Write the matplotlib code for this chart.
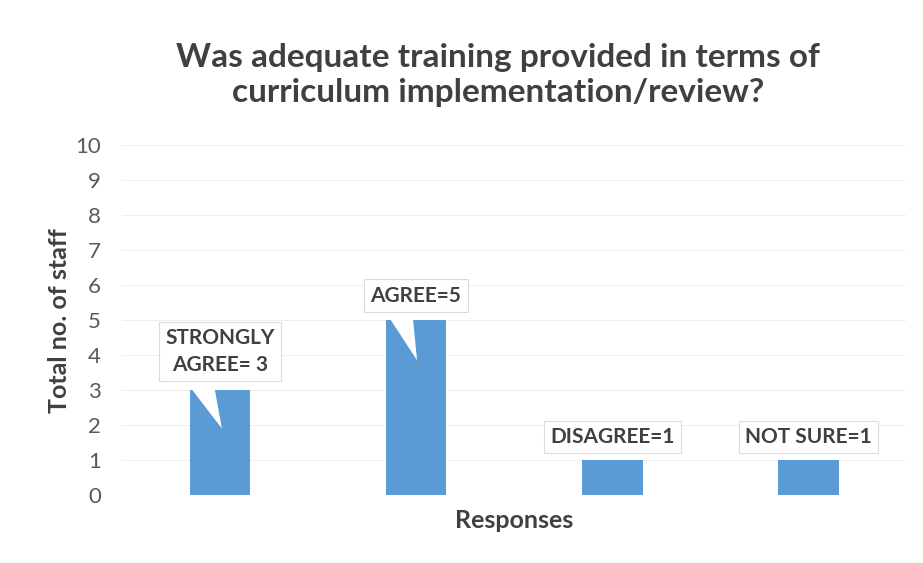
import matplotlib.pyplot as plt

# data
responses = ["STRONGLY AGREE", "AGREE", "DISAGREE", "NOT SURE"]
staff = [3, 5, 1, 1]
callouts = ["STRONGLY\nAGREE= 3", "AGREE=5", "DISAGREE=1", "NOT SURE=1"]
yticks = list(range(0, 11))

plt.rcParams["font.family"] = ["Lato", "DejaVu Sans"]
dark = "#404040"
gray = "#595959"

fig = plt.figure(figsize=(9.23, 5.63), dpi=100)
ax = fig.add_axes([0.132, 0.121, 0.850, 0.621])

x = list(range(len(responses)))
ax.bar(x, staff, width=0.31, color="#5b9bd5", zorder=2)

ax.set_xlim(-0.5, 3.5)
ax.set_ylim(0, 10)
ax.set_yticks(yticks)
ax.set_xticks([])
ax.tick_params(axis="y", length=0, labelsize=16, labelcolor=gray, pad=15)
ax.grid(axis="y", color="#efefef", linewidth=0.8, zorder=0)
for s in ax.spines.values():
    s.set_visible(False)

ax.set_ylabel("Total no. of staff", fontsize=18, fontweight="bold", color=dark, labelpad=3)
ax.set_xlabel("Responses", fontsize=18, fontweight="bold", color=dark, labelpad=10)
fig.suptitle("Was adequate training provided in terms of\ncurriculum implementation/review?",
             x=0.54, y=0.924, fontsize=24, fontweight="bold", color=dark, linespacing=1.25)

box = dict(boxstyle="square,pad=0.3", fc="white", ec="#dcdcdc", lw=0.8)

# callouts with wedge pointers into the bar
text_pos = [(0, 4.1), (1, 5.7), (2, 1.66), (3, 1.66)]
tips = [(0.01, 1.9), (1.005, 3.85), None, None]
for i, lab in enumerate(callouts):
    tx, ty = text_pos[i]
    if tips[i] is not None:
        ax.annotate(lab, xy=tips[i], xytext=(tx, ty), ha="center", va="center",
                    fontsize=15, fontweight="bold", color=dark, bbox=box,
                    linespacing=1.4, zorder=5,
                    arrowprops=dict(arrowstyle="wedge,tail_width=0.9,shrink_factor=0.5",
                                    fc="white", ec="none", mutation_scale=20,
                                    relpos=(0.3, 0.0), shrinkA=0, shrinkB=0))
    else:
        ax.text(tx, ty, lab, ha="center", va="center", fontsize=15,
                fontweight="bold", color=dark, bbox=box, zorder=5)

fig.savefig("out.png", dpi=100)
